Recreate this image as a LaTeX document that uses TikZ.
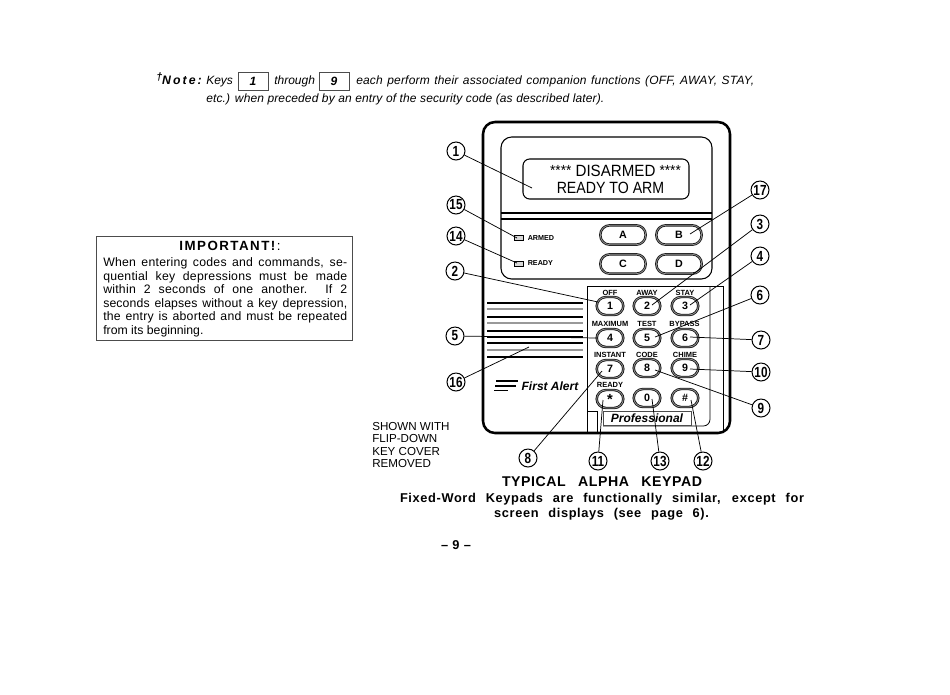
\documentclass[tikz,border=0pt]{standalone}
\usepackage{fontspec}
\setmainfont{Liberation Sans}
\newcommand{\fs}[1]{\fontsize{#1}{#1}\selectfont}
\newcommand{\jl}[2]{\makebox[#1][s]{#2}}
\newcommand{\lsp}[1]{\addfontfeature{LetterSpace=#1}}
\newcommand{\cn}[1]{\scalebox{0.8}[1]{#1}}
\tikzset{
  callout/.style={draw,circle,line width=0.75pt,fill=white,minimum size=13.5pt,inner sep=0pt,font=\fs{11}\bfseries},
  lead/.style={line width=0.55pt},
  bigkey/.style={draw=black!90,double=black!40,double distance=0.55pt,line width=0.65pt,fill=white,rounded corners=7pt,minimum width=34pt,minimum height=14.5pt,inner sep=0pt,font=\fs{8}\bfseries},
  numkey/.style={draw=black!90,double=black!40,double distance=0.55pt,line width=0.65pt,fill=white,rounded corners=7pt,minimum width=20pt,minimum height=13.5pt,inner sep=0pt,font=\fs{8}\bfseries},
  keylabel/.style={inner sep=0pt,font=\fs{5.6}\bfseries},
  txt/.style={inner sep=0pt,anchor=base west},
  notetxt/.style={txt,font=\fs{9}\itshape},
  grille/.style={line width=0.8pt},
  grillegray/.style={line width=1.5pt,black!40},
  panel/.style={line width=0.6pt},
  notebox/.style={draw=black!70,line width=0.55pt,minimum width=22.5pt,minimum height=13.5pt,inner sep=0pt,font=\fs{9}\bfseries\itshape},
}
\begin{document}
\begin{tikzpicture}[x=0.75pt,y=-0.75pt]
\useasboundingbox (0,0) rectangle (950,694);
\fill[white] (0,0) rectangle (950,694);
% note
\node[txt,font=\fs{9.2}\bfseries\itshape] (noteh) at (156,84) {\raisebox{2.5pt}{\fs{8}†}N\,o\,t\,e\,:};
\node[notetxt] (n1) at (206,84.5) {Keys};
\node[notebox] (k1) at (253,81) {1};
\node[notetxt] (n2) at (274,84.5) {through};
\node[notebox] (k9) at (334,81) {9};
\node[notetxt] (n3) at (356,84.5) {\lsp{1.5}\jl{298.5pt}{each perform their associated companion functions (OFF, AWAY, STAY,}};
\node[notetxt] (n4) at (206,102) {\lsp{1}\jl{298.5pt}{etc.) when preceded by an entry of the security code (as described later).}};
% important box
\node[draw=black!70,line width=0.6pt,minimum width=192pt,minimum height=78.5pt,inner sep=0pt] (imp) at (224,288.5) {};
\node[inner sep=0pt,font=\fs{10}] (imph) at (230,246) {\lsp{11}\textbf{IMPORTANT!}:};
\node[txt,font=\fs{9.2}] (i1) at (103,266) {\lsp{2}\jl{183pt}{When entering codes and commands, se-}};
\node[txt,font=\fs{9.2}] (i2) at (103,280) {\lsp{2}\jl{183pt}{quential key depressions must be made}};
\node[txt,font=\fs{9.2}] (i3) at (103,293) {\lsp{2}\jl{183pt}{within 2 seconds of one another. If 2}};
\node[txt,font=\fs{9.2}] (i4) at (103,307) {\lsp{1}\jl{183pt}{seconds elapses without a key depression,}};
\node[txt,font=\fs{9.2}] (i5) at (103,320) {\lsp{2}\jl{183pt}{the entry is aborted and must be repeated}};
\node[txt,font=\fs{9.2}] (i6) at (103,334) {from its beginning.};
% keypad body
\draw[line width=1.9pt,rounded corners=9pt] (483,122) rectangle (730,433);
\draw[line width=0.8pt,rounded corners=8pt] (501,137) rectangle (712,279);
\draw[line width=1.1pt] (501,213) -- (712,213);
\draw[line width=0.8pt] (501,219) -- (712,219);
\draw[line width=0.8pt,rounded corners=5pt] (523,159) rectangle (689,199);
\node[inner sep=0pt,font=\fs{12.2}] (d1) at (615.5,171) {\scalebox{0.93}[1]{\raisebox{1pt}{\fs{11}****} DISARMED \raisebox{1pt}{\fs{11}****}}};
\node[inner sep=0pt,font=\fs{12.2}] (d2) at (610.5,188) {\scalebox{0.87}[1]{READY TO ARM}};
% LEDs
\draw[line width=0.4pt,fill=black!15] (514,235) rectangle (523,240);
\draw[line width=0.6pt,fill=black!15] (514,261) rectangle (523,266);
\node[inner sep=0pt,anchor=west,font=\fs{5.4}\bfseries] (armed) at (527.5,238.5) {ARMED};
\node[inner sep=0pt,anchor=west,font=\fs{5.4}\bfseries] (ready) at (527.5,263.5) {READY};
% A-D
\node[bigkey] (kA) at (623,235) {A};
\node[bigkey] (kB) at (679,235) {B};
\node[bigkey] (kC) at (623,264) {C};
\node[bigkey] (kD) at (679,264) {D};
% lower panel
\draw[panel] (587,433) -- (587,286) -- (723,286) -- (723,433);
\draw[panel,rounded corners=5pt] (710,286) -- (710,426) -- (603,426);
\draw[panel] (587,411) rectangle (597,432);
\node[draw=black!70,line width=0.55pt,fill=white,minimum width=66pt,minimum height=10.5pt,inner sep=0pt,font=\fs{9}\bfseries\itshape] (pro) at (647,418) {Professional};
% grille
\foreach \y in {303,317,331,337,343,357} \draw[grille] (487,\y) -- (583,\y);
\foreach \y in {309,323,350} \draw[grillegray] (487,\y) -- (583,\y);
\draw[line width=1.4pt] (487,331) -- (583,331);
% logo
\draw[line width=0.9pt] (496,381) -- (518,381);
\draw[line width=0.9pt] (495,386) -- (516,386);
\draw[line width=1.1pt] (494,390.5) -- (508,390.5);
\node[inner sep=0pt,font=\fs{9}\bfseries\itshape] (fa) at (550,386.5) {First Alert};
% number keys
\node[numkey] (n1k) at (610,306) {1};
\node[numkey] (n2k) at (647,306) {2};
\node[numkey] (n3k) at (685,306) {3};
\node[numkey] (n4k) at (610,338) {4};
\node[numkey] (n5k) at (647,338) {5};
\node[numkey] (n6k) at (685,338) {6};
\node[numkey] (n7k) at (610,369) {7};
\node[numkey] (n8k) at (647,368) {8};
\node[numkey] (n9k) at (685,368) {9};
\node[numkey,font=\fs{11}\bfseries] (nsk) at (610,399) {*};
\node[numkey] (n0k) at (647,398) {0};
\node[numkey] (nhk) at (685,398) {\#};
% labels
\node[keylabel] (l1) at (610,293) {OFF};
\node[keylabel] (l2) at (647,293) {AWAY};
\node[keylabel] (l3) at (685,292.5) {STAY};
\node[keylabel] (l4) at (610,324) {MAXIMUM};
\node[keylabel] (l5) at (647,323.5) {TEST};
\node[keylabel] (l6) at (684.5,324) {BYPASS};
\node[keylabel] (l7) at (610,355) {INSTANT};
\node[keylabel] (l8) at (647,355) {CODE};
\node[keylabel] (l9) at (685,355) {CHIME};
\node[keylabel] (l10) at (610,384.5) {READY};
% callouts
\node[callout] (c1) at (456,151) {\cn{1}};
\node[callout] (c15) at (456,205) {\cn{15}};
\node[callout] (c14) at (456,236) {\cn{14}};
\node[callout] (c2) at (455,271) {\cn{2}};
\node[callout] (c5) at (455,336) {\cn{5}};
\node[callout] (c16) at (456,382) {\cn{16}};
\node[callout] (c17) at (760,190) {\cn{17}};
\node[callout] (c3) at (760,224) {\cn{3}};
\node[callout] (c4) at (760,256) {\cn{4}};
\node[callout] (c6) at (760,295) {\cn{6}};
\node[callout] (c7) at (761,340) {\cn{7}};
\node[callout] (c10) at (761,372) {\cn{10}};
\node[callout] (c9) at (761,408) {\cn{9}};
\node[callout] (c8) at (528,458) {\cn{8}};
\node[callout] (c11) at (598,461) {\cn{11}};
\node[callout] (c13) at (660,461) {\cn{13}};
\node[callout] (c12) at (703,461) {\cn{12}};
% targets
\coordinate (t1) at (532,188);
\coordinate (t15) at (517,238);
\coordinate (t14) at (517,263);
\coordinate (t2) at (598,302);
\coordinate (t5) at (598,338);
\coordinate (t16) at (529,347);
\coordinate (t17) at (690,234);
\coordinate (t3) at (652,305);
\coordinate (t4) at (690,305);
\coordinate (t6) at (655,337);
\coordinate (t7) at (690,337);
\coordinate (t10) at (690,369);
\coordinate (t9) at (655,370);
\coordinate (t8) at (602,371);
\coordinate (t11) at (603,400);
\coordinate (t13) at (652,399);
\coordinate (t12) at (691,400);
\foreach \n in {1,15,14,2,5,16,17,3,4,6,7,10,9,8,11,13,12}
  \draw[lead] (c\n) -- (t\n);
% captions
\node[txt,font=\fs{8.7}] (s1) at (372,430) {SHOWN WITH};
\node[txt,font=\fs{8.7}] (s2) at (372,442) {FLIP-DOWN};
\node[txt,font=\fs{8.7}] (s3) at (372,455) {KEY COVER};
\node[txt,font=\fs{8.7}] (s4) at (372,467) {REMOVED};
\node[inner sep=0pt,font=\fs{10.6}\bfseries] (cap1) at (602,482) {\lsp{4}\jl{150pt}{TYPICAL\ \ ALPHA\ \ KEYPAD}};
\node[inner sep=0pt,font=\fs{9.6}\bfseries] (cap2) at (602,499) {\lsp{5}\jl{303pt}{Fixed-Word Keypads are functionally similar, except for}};
\node[inner sep=0pt,font=\fs{9.6}\bfseries] (cap3) at (601.5,514) {\lsp{5}\jl{161pt}{screen displays (see page 6).}};
\node[inner sep=0pt,font=\fs{9.6}\bfseries] (pg) at (456,545) {\lsp{6}– 9 –};
\end{tikzpicture}
\end{document}
